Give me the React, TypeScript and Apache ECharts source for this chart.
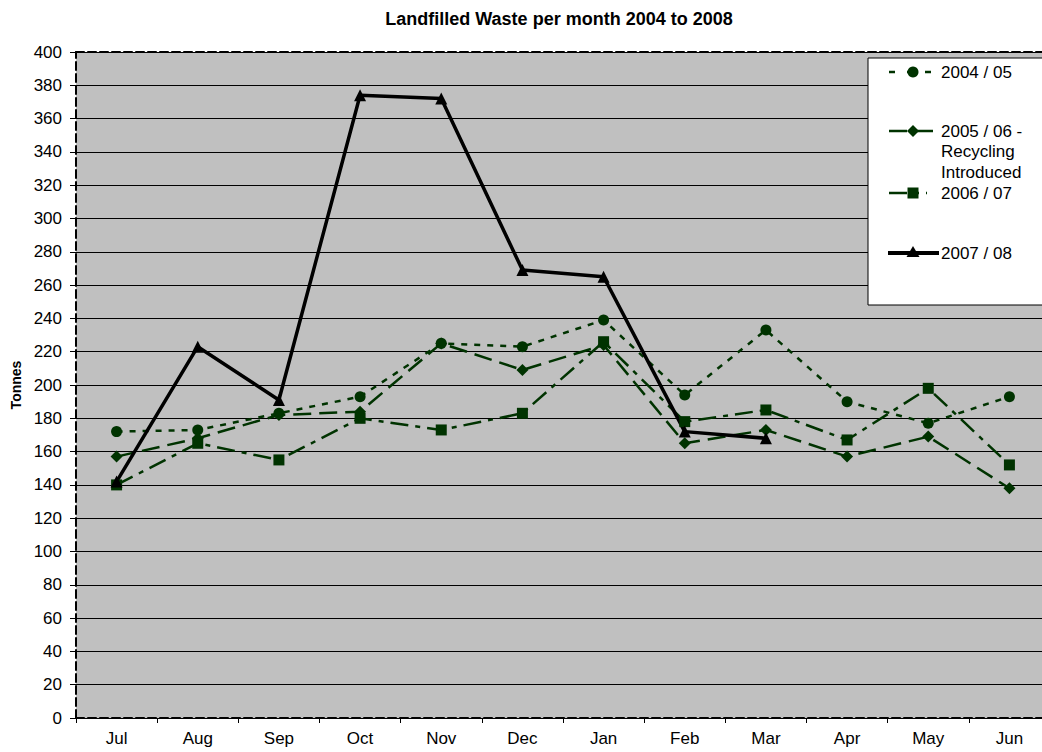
import React, { useEffect, useRef } from "react";
import * as echarts from "echarts";

const months = ["Jul", "Aug", "Sep", "Oct", "Nov", "Dec", "Jan", "Feb", "Mar", "Apr", "May", "Jun"];
const y2004 = [172, 173, 183, 193, 225, 223, 239, 194, 233, 190, 177, 193];
const y2005 = [157, 168, 182, 184, 225, 209, 224, 165, 173, 157, 169, 138];
const y2006 = [140, 165, 155, 180, 173, 183, 226, 178, 185, 167, 198, 152];
const y2007 = [142, 223, 191, 374, 372, 269, 265, 172, 168, null, null, null];
const seriesNames = ["2004 / 05", "2005 / 06 -\nRecycling\nIntroduced", "2006 / 07", "2007 / 08"];

const GREEN = "#003300";
const FONT = "'Liberation Sans', Arial, sans-serif";

export default function App() {
  const ref = useRef<HTMLDivElement>(null);
  useEffect(() => {
    if (!ref.current) return;
    const chart = echarts.init(ref.current, undefined, { renderer: "svg" });
    const lx1 = 889;
    const lx2 = 936;
    const mx = 913;
    const textX = 941;
    const Z = 200;
    const legendText = (text: string, y: number, multi = false) => ({
      type: "text",
      z: Z,
      x: textX,
      y,
      style: {
        text,
        fill: "#000",
        fontSize: 17,
        fontFamily: FONT,
        verticalAlign: multi ? "top" : "middle",
        lineHeight: 20.5,
      },
    });
    chart.setOption({
      animation: false,
      backgroundColor: "#fff",
      textStyle: { fontFamily: FONT },
      title: {
        text: "Landfilled Waste per month 2004 to 2008",
        left: 554,
        top: 5,
        textAlign: "center",
        textStyle: { fontSize: 18, fontWeight: "bold", color: "#000", fontFamily: FONT },
      },
      grid: {
        left: 76,
        top: 52,
        right: -8,
        bottom: 34,
        outerBoundsMode: "none",
        containLabel: false,
        show: true,
        backgroundColor: "#C0C0C0",
        borderWidth: 0,
      },
      xAxis: [
        {
          type: "category",
          data: months,
          boundaryGap: true,
          axisLine: { show: true, lineStyle: { color: "#000", width: 2, type: [8, 4] } },
          axisTick: { show: true, length: 5, lineStyle: { color: "#000" }, alignWithLabel: false },
          axisLabel: { fontSize: 17, color: "#000", margin: 12, fontFamily: FONT },
          splitLine: { show: false },
        },
        {
          type: "category",
          data: months,
          position: "top",
          boundaryGap: true,
          axisLine: { show: true, onZero: false, lineStyle: { color: "#000", width: 2, type: [8, 4] } },
          axisTick: { show: false },
          axisLabel: { show: false },
          splitLine: { show: false },
        },
      ],
      yAxis: {
        type: "value",
        min: 0,
        max: 400,
        interval: 20,
        name: "Tonnes",
        nameLocation: "middle",
        nameGap: 51,
        nameTextStyle: { fontSize: 14, fontWeight: "bold", color: "#000", fontFamily: FONT },
        axisLine: { show: true, lineStyle: { color: "#000", width: 2, type: [8, 4] } },
        axisTick: { show: true, length: 6, lineStyle: { color: "#000" } },
        axisLabel: { fontSize: 17, color: "#000", margin: 14, fontFamily: FONT },
        splitLine: { show: true, lineStyle: { color: "#000", width: 1 } },
      },
      series: [
        {
          name: seriesNames[0],
          type: "line",
          data: y2004,
          symbol: "circle",
          symbolSize: 11,
          itemStyle: { color: GREEN },
          lineStyle: { color: GREEN, width: 2.5, type: [6, 7] },
        },
        {
          name: seriesNames[1],
          type: "line",
          data: y2005,
          symbol: "diamond",
          symbolSize: 12,
          itemStyle: { color: GREEN },
          lineStyle: { color: GREEN, width: 2.5, type: [18, 8] },
        },
        {
          name: seriesNames[2],
          type: "line",
          data: y2006,
          symbol: "rect",
          symbolSize: 11,
          itemStyle: { color: GREEN },
          lineStyle: { color: GREEN, width: 2.5, type: [18, 7, 5, 7] },
        },
        {
          name: seriesNames[3],
          type: "line",
          data: y2007,
          symbol: "triangle",
          symbolSize: 12,
          itemStyle: { color: "#000" },
          lineStyle: { color: "#000", width: 3.5 },
        },
      ],
      graphic: [
        {
          type: "rect",
          z: Z - 1,
          shape: { x: 868, y: 58, width: 200, height: 247 },
          style: { fill: "#fff", stroke: "#000", lineWidth: 1 },
        },
        { type: "line", z: Z, shape: { x1: lx1, y1: 72, x2: 931, y2: 72 }, style: { stroke: GREEN, lineWidth: 2.5, lineDash: [6, 12] } },
        { type: "circle", z: Z, shape: { cx: mx, cy: 72, r: 5.5 }, style: { fill: GREEN } },
        legendText(seriesNames[0], 72),
        { type: "line", z: Z, shape: { x1: lx1, y1: 131, x2: lx2, y2: 131 }, style: { stroke: GREEN, lineWidth: 2.5, lineDash: [18, 8] } },
        { type: "polygon", z: Z, shape: { points: [[mx, 125], [mx + 6, 131], [mx, 137], [mx - 6, 131]] }, style: { fill: GREEN } },
        legendText(seriesNames[1], 131 - 10.25, true),
        { type: "line", z: Z, shape: { x1: lx1, y1: 193, x2: 927, y2: 193 }, style: { stroke: GREEN, lineWidth: 2.5, lineDash: [18, 7, 5, 7] } },
        { type: "rect", z: Z, shape: { x: mx - 5.5, y: 187.5, width: 11, height: 11 }, style: { fill: GREEN } },
        legendText(seriesNames[2], 193),
        { type: "line", z: Z, shape: { x1: 888, y1: 253, x2: 939, y2: 253 }, style: { stroke: "#000", lineWidth: 4 } },
        { type: "polygon", z: Z, shape: { points: [[mx, 246], [mx + 6.5, 257], [mx - 6.5, 257]] }, style: { fill: "#000" } },
        legendText(seriesNames[3], 253),
      ],
    });
    return () => chart.dispose();
  }, []);
  return (
    <div
      ref={ref}
      style={{ position: "absolute", left: 0, top: 0, width: 1042, height: 752 }}
    />
  );
}
